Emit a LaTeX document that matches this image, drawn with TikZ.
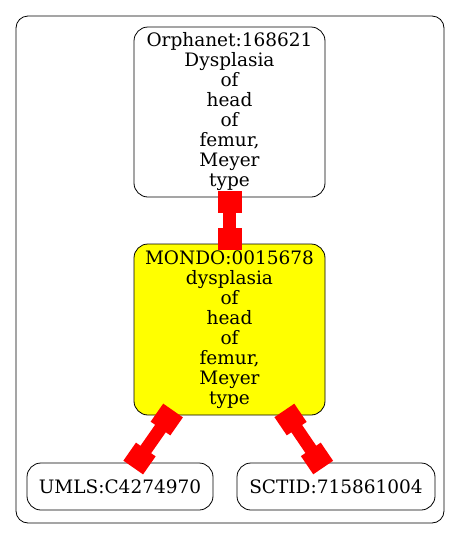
\documentclass[tikz,border=0pt]{standalone}
\usepackage{fontspec}
\setmainfont{DejaVu Serif}
\usetikzlibrary{arrows.meta}
\definecolor{mondoyellow}{RGB}{255,255,0}
\definecolor{linkred}{RGB}{255,0,0}
\begin{document}
\begin{tikzpicture}[x=1pt,y=-1pt,font=\fontsize{18.5}{20}\selectfont,
  term/.style={draw,rounded corners=14pt,align=center,inner sep=2pt,line width=0.8pt},
  link/.style={linkred,line width=13pt,shorten <=-6pt,shorten >=-6pt,
    {Square[length=22pt,width=24pt]}-{Square[length=22pt,width=24pt]}}]
  \useasboundingbox (0,0) rectangle (461,539);
  % cluster frame
  \draw[rounded corners=12pt,line width=0.8pt] (16,16) rectangle (444,523);
  % terms
  \node[term,minimum width=191pt,minimum height=170pt] (orpha) at (229.5,112)
    {Orphanet:168621\\Dysplasia\\of\\head\\of\\femur,\\Meyer\\type};
  \node[term,fill=mondoyellow,minimum width=191pt,minimum height=171pt] (mondo) at (229.5,329.5)
    {MONDO:0015678\\dysplasia\\of\\head\\of\\femur,\\Meyer\\type};
  \node[term,minimum width=186pt,minimum height=47pt] (umls) at (120,486.5) {UMLS:C4274970};
  \node[term,minimum width=198pt,minimum height=47pt] (sctid) at (336,486.5) {SCTID:715861004};
  % mappings
  \foreach \a/\b in {orpha/mondo, mondo/umls, mondo/sctid}
    \draw[link] (\a) -- (\b);
\end{tikzpicture}
\end{document}
